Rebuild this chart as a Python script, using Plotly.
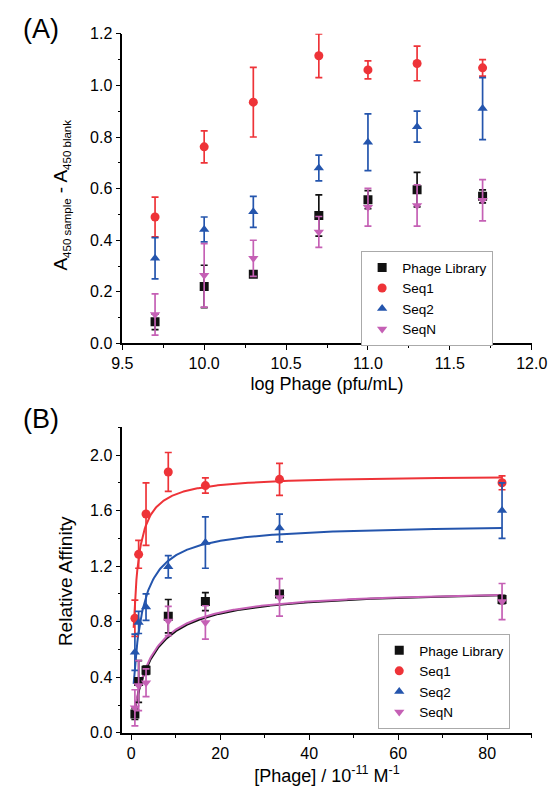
import numpy as np
import plotly.graph_objects as go

# ---------------- Panel A data ----------------
log_phage = [9.7, 10.0, 10.3, 10.7, 11.0, 11.3, 11.7]
a_library = [0.084, 0.221, 0.268, 0.496, 0.557, 0.596, 0.570]
a_library_err = [0.030, 0.082, 0.006, 0.080, 0.035, 0.067, 0.025]
a_seq1 = [0.490, 0.762, 0.935, 1.115, 1.060, 1.085, 1.068]
a_seq1_err = [0.077, 0.062, 0.135, 0.085, 0.035, 0.067, 0.032]
a_seq2 = [0.330, 0.442, 0.510, 0.680, 0.780, 0.840, 0.910]
a_seq2_err = [0.080, 0.048, 0.060, 0.050, 0.110, 0.060, 0.120]
a_seqn = [0.112, 0.264, 0.330, 0.432, 0.528, 0.535, 0.555]
a_seqn_err = [0.080, 0.123, 0.070, 0.060, 0.073, 0.080, 0.080]

# ---------------- Panel B data ----------------
phage_conc = [0.83, 1.67, 3.33, 8.33, 16.67, 33.33, 83.33]
b_library = [0.136, 0.370, 0.450, 0.840, 0.945, 1.000, 0.960]
b_library_err = [0.040, 0.150, 0.030, 0.120, 0.065, 0.020, 0.030]
b_seq1 = [0.825, 1.285, 1.575, 1.878, 1.780, 1.825, 1.800]
b_seq1_err = [0.130, 0.100, 0.225, 0.140, 0.055, 0.115, 0.050]
b_seq2 = [0.580, 0.795, 0.905, 1.195, 1.370, 1.475, 1.600]
b_seq2_err = [0.130, 0.080, 0.095, 0.080, 0.185, 0.100, 0.200]
b_seqn = [0.180, 0.340, 0.360, 0.805, 0.795, 0.975, 0.945]
b_seqn_err = [0.130, 0.180, 0.100, 0.105, 0.120, 0.135, 0.130]

# one-site binding fit parameters (Bmax, Kd) for each series
fit_bmax = {"Phage Library": 1.04, "Seq1": 1.855, "Seq2": 1.507, "SeqN": 1.04}
fit_kd = {"Phage Library": 4.22, "Seq1": 0.80, "Seq2": 1.80, "SeqN": 4.0}
fit_range = [0.55, 83.33]

names = ["Phage Library", "Seq1", "Seq2", "SeqN"]
colors = {"Phage Library": "#111111", "Seq1": "#ee3338", "Seq2": "#2455ad", "SeqN": "#c560b5"}
symbols = {"Phage Library": "square", "Seq1": "circle", "Seq2": "triangle-up", "SeqN": "triangle-down"}

a_vals = {"Phage Library": (a_library, a_library_err), "Seq1": (a_seq1, a_seq1_err),
          "Seq2": (a_seq2, a_seq2_err), "SeqN": (a_seqn, a_seqn_err)}
b_vals = {"Phage Library": (b_library, b_library_err), "Seq1": (b_seq1, b_seq1_err),
          "Seq2": (b_seq2, b_seq2_err), "SeqN": (b_seqn, b_seqn_err)}

FONT = "Liberation Sans, Arial, sans-serif"

# the page body keeps an 8px margin, so the figure is 16px smaller than the window
W, H, PAD = 544, 778, 8
def fx(p):
    return (p - PAD) / W
def fy(p):
    return 1 - (p - PAD) / H

fig = go.Figure()

# Panel A
for n in names:
    y, e = a_vals[n]
    fig.add_trace(go.Scatter(
        x=log_phage, y=y, mode="markers", name=n,
        marker=dict(symbol=symbols[n], color=colors[n], size=9),
        error_y=dict(type="data", array=e, color=colors[n], thickness=1.7, width=3.5),
        xaxis="x", yaxis="y", legend="legend"))

# Panel B curves
for n in ["Seq1", "Seq2", "Phage Library", "SeqN"]:
    xc = np.linspace(fit_range[0], fit_range[1], 400)
    yc = fit_bmax[n] * xc / (fit_kd[n] + xc)
    fig.add_trace(go.Scatter(
        x=xc, y=yc, mode="lines", line=dict(color=colors[n], width=2),
        showlegend=False, hoverinfo="skip", xaxis="x2", yaxis="y2"))

# Panel B points
for n in names:
    y, e = b_vals[n]
    fig.add_trace(go.Scatter(
        x=phage_conc, y=y, mode="markers", name=n,
        marker=dict(symbol=symbols[n], color=colors[n], size=9),
        error_y=dict(type="data", array=e, color=colors[n], thickness=1.7, width=3.5),
        xaxis="x2", yaxis="y2", legend="legend2"))

axis_common = dict(showline=True, linecolor="black", linewidth=1.5, ticks="outside",
                   ticklen=5, tickwidth=1.3, tickcolor="black", showgrid=False,
                   zeroline=False, mirror=False, ticklabeloverflow="allow",
                   tickfont=dict(family=FONT, size=16, color="black"))

xdom = [fx(116.7), fx(547.5)]
legend_common = dict(xanchor="left", yanchor="top", bgcolor="white",
                     bordercolor="#aaaaaa", borderwidth=1,
                     font=dict(family=FONT, size=13.5, color="black"),
                     tracegroupgap=0, itemwidth=30)
fig.update_layout(
    width=W, height=H,
    margin=dict(l=0, r=0, t=0, b=0),
    paper_bgcolor="white", plot_bgcolor="white",
    font=dict(family=FONT, color="black"),
    xaxis=dict(domain=xdom, range=[9.5, 12.0], dtick=0.5, tickformat=".1f",
               minor=dict(ticks="outside", ticklen=3, dtick=0.25, tickcolor="black"),
               title=dict(text="log Phage (pfu/mL)", font=dict(size=18), standoff=6),
               anchor="y", **axis_common),
    yaxis=dict(domain=[fy(345), fy(26.3)], range=[0, 1.2], dtick=0.2, tickformat=".1f",
               minor=dict(ticks="outside", ticklen=3, dtick=0.1, tickcolor="black"),
               anchor="x", **axis_common),
    xaxis2=dict(domain=xdom, range=[-2, 90], dtick=20,
                minor=dict(ticks="outside", ticklen=3, dtick=10, tickcolor="black"),
                title=dict(text="[Phage] / 10<sup>-11</sup> M<sup>-1</sup>",
                           font=dict(size=18), standoff=12),
                anchor="y2", **axis_common),
    yaxis2=dict(domain=[fy(745.7), fy(431.2)], range=[0, 2.2], dtick=0.4, tickformat=".1f",
                minor=dict(ticks="outside", ticklen=3, dtick=0.2, tickcolor="black"),
                anchor="x2", **axis_common),
    legend=dict(x=fx(368), y=fy(250), **legend_common),
    legend2=dict(x=fx(386), y=fy(644), **legend_common),
    annotations=[
        dict(text="(A)", x=fx(10), y=fy(21), xref="paper", yref="paper",
             xanchor="left", yanchor="middle", showarrow=False,
             font=dict(family=FONT, size=27, color="black")),
        dict(text="(B)", x=fx(10), y=fy(423), xref="paper", yref="paper",
             xanchor="left", yanchor="middle", showarrow=False,
             font=dict(family=FONT, size=27, color="black")),
        dict(text="A<sub><span style='font-size:11.5px'>450 sample</span></sub> - "
                  "A<sub><span style='font-size:11.5px'>450 blank</span></sub>",
             x=fx(53), y=fy(192), xref="paper", yref="paper", textangle=-90,
             xanchor="center", yanchor="middle", showarrow=False,
             font=dict(family=FONT, size=19, color="black")),
        dict(text="Relative Affinity", x=fx(57), y=fy(590), xref="paper", yref="paper",
             textangle=-90, xanchor="center", yanchor="middle", showarrow=False,
             font=dict(family=FONT, size=19, color="black")),
    ],
)

fig.write_html("out.html", config={"displayModeBar": False})
